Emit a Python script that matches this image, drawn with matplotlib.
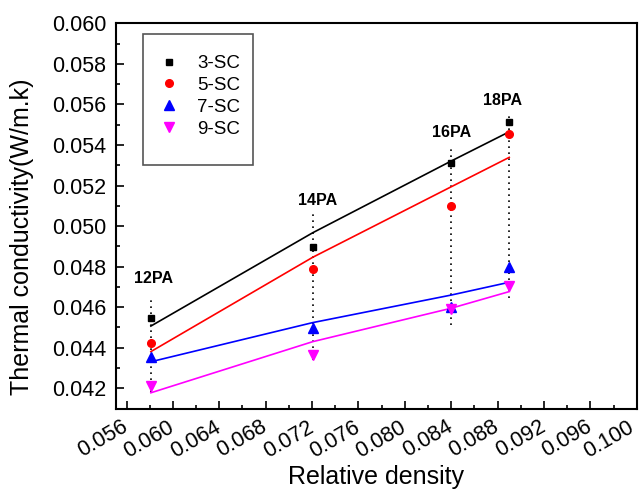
import numpy as np
import matplotlib.pyplot as plt
import matplotlib.transforms as mtrans
from matplotlib.patches import Rectangle

plt.rcParams['font.family'] = ['Liberation Sans', 'DejaVu Sans']

# relative density of the four samples (12PA .. 18PA)
density = [0.0581, 0.07205, 0.0840, 0.0890]
pa_labels = ['12PA', '14PA', '16PA', '18PA']
label_x = [0.0583, 0.0725, 0.0840, 0.0884]
label_y = [0.04744, 0.05125, 0.05460, 0.05618]

# measured points
k3 = [0.04548, 0.04898, 0.05313, 0.05515]
k5 = [0.04422, 0.04789, 0.05099, 0.05453]
k7 = [0.04353, 0.04499, 0.04600, 0.04800]
k9 = [0.04213, 0.04364, 0.04593, 0.04706]

# fitted curves evaluated at the same densities
fit3 = [0.04507, 0.04967, 0.05321, 0.05465]
fit5 = [0.04381, 0.04846, 0.05194, 0.05339]
fit7 = [0.04331, 0.04524, 0.04660, 0.04723]
fit9 = [0.04178, 0.04430, 0.04595, 0.04677]

# vertical dotted guides
guide_lo = [0.04180, 0.04340, 0.04512, 0.04646]
guide_hi = [0.04649, 0.05065, 0.05385, 0.05548]

series = [
    ('3-SC', k3, fit3, 'black', 's', 5),
    ('5-SC', k5, fit5, 'red', 'o', 5.5),
    ('7-SC', k7, fit7, 'blue', '^', 6.5),
    ('9-SC', k9, fit9, 'magenta', 'v', 6.5),
]

fig = plt.figure(figsize=(6.4, 4.91), dpi=100)
ax = fig.add_axes([0.181, 0.167, 0.814, 0.7855])

# dotted guides
ax.vlines(density, guide_lo, guide_hi, colors='black',
          linestyles=(0, (1, 2.6)), linewidth=1.2, zorder=1)

for name, pts, fit, col, mk, ms in series:
    ax.plot(density, fit, color=col, lw=1.2, zorder=2)
    ax.plot(density, pts, ls='none', marker=mk, ms=ms, color=col, label=name, zorder=3)

for x, y, t in zip(label_x, label_y, pa_labels):
    ax.text(x, y, t, ha='center', va='center', fontsize=11.5, fontweight='bold')

ax.set_xlim(0.05508, 0.100)
ax.set_ylim(0.04098, 0.060)
ax.set_xticks(np.arange(0.056, 0.1001, 0.004))
ax.set_xticks(np.arange(0.058, 0.1001, 0.004), minor=True)
ax.set_yticks(np.arange(0.042, 0.0601, 0.002))
ax.set_yticks(np.arange(0.041, 0.0601, 0.002), minor=True)
ax.set_xticklabels(['%.3f' % v for v in np.arange(0.056, 0.1001, 0.004)],
                   rotation=30, ha='right', va='center', rotation_mode='anchor')
ax.set_yticklabels(['%.3f' % v for v in np.arange(0.042, 0.0601, 0.002)])
ax.tick_params(which='major', direction='in', length=6, width=1.2, labelsize=15.5)
ax.tick_params(which='minor', direction='in', length=3, width=1.2)
ax.tick_params(axis='x', pad=12)
ax.tick_params(axis='y', pad=7)
for s in ax.spines.values():
    s.set_linewidth(1.5)

# keep the last rotated label inside the canvas
last = ax.get_xticklabels()[-1]
last.set_transform(last.get_transform() +
                   mtrans.ScaledTranslation(-4 / 100, 0, fig.dpi_scale_trans))

ax.set_xlabel('Relative density', fontsize=18)
ax.xaxis.set_label_coords(0.5, -0.145)
ax.set_ylabel('Thermal conductivity(W/m.k)', fontsize=18)
ax.yaxis.set_label_coords(-0.157, 0.447)

# legend box
ax.add_patch(Rectangle((0.0524, 0.6326), 0.2113, 0.3396, transform=ax.transAxes,
                       fill=False, edgecolor='#555555', lw=1.2, zorder=4))
ax.legend(loc='upper left', bbox_to_anchor=(0.066, 0.942), frameon=False,
          fontsize=13.5, numpoints=1, handlelength=1.0, handletextpad=1.0,
          labelspacing=0.25, borderpad=0)

fig.savefig('out.png', dpi=100)
